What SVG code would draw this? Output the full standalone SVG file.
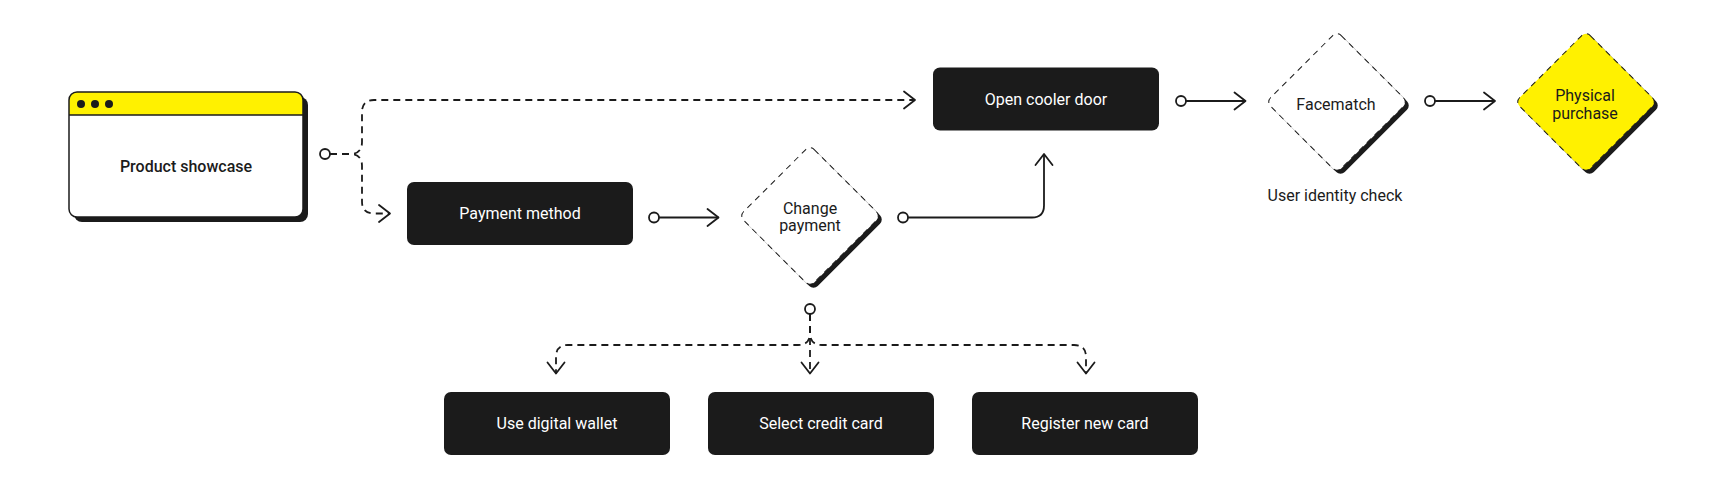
<svg xmlns="http://www.w3.org/2000/svg" width="1728" height="483" viewBox="0 0 1728 483">
<style>
  text { font-family: Roboto, "Liberation Sans", Arial, sans-serif; font-size: 16px; text-anchor: middle; }
  .wt { fill: #ffffff; }
  .dt { fill: #1b1b1b; }
  .box { fill: #1b1b1b; }
  .shadow { fill: #1b1b1b; }
  .dia { stroke: #1b1b1b; stroke-width: 1; stroke-dasharray: 6 5; }
  .solid { fill: none; stroke: #1b1b1b; stroke-width: 1.8; }
  .dash { fill: none; stroke: #1b1b1b; stroke-width: 1.8; stroke-dasharray: 7 5; }
  .dot { fill: #ffffff; stroke: #1b1b1b; stroke-width: 1.8; }
</style>
<defs>
  <marker id="arrow" markerUnits="userSpaceOnUse" markerWidth="24" markerHeight="24" viewBox="-14 -12 16 24" refX="0" refY="0" orient="auto">
    <path d="M -11 -8.5 L 0 0 L -11 8.5" fill="none" stroke="#1b1b1b" stroke-width="1.8" stroke-linecap="round" stroke-linejoin="round"/>
  </marker>
  <clipPath id="winclip"><rect x="69" y="92" width="234" height="125" rx="8"/></clipPath>
</defs>
<rect width="1728" height="483" fill="#ffffff"/>

<g id="connectors">
  <circle class="dot" cx="325" cy="154" r="5"/>
  <path class="dash" d="M 330 154 H 350 Q 362 154 362 142 V 112 Q 362 100 374 100 H 915" marker-end="url(#arrow)"/>
  <path class="dash" d="M 330 154 H 350 Q 362 154 362 166 V 201.5 Q 362 213.5 374 213.5 H 390" marker-end="url(#arrow)"/>
  <circle class="dot" cx="654" cy="217.5" r="5"/>
  <path class="solid" d="M 659 217.5 H 718.5" marker-end="url(#arrow)"/>
  <circle class="dot" cx="903" cy="217.5" r="5"/>
  <path class="solid" d="M 908 217.5 H 1032 Q 1044 217.5 1044 205.5 V 154" marker-end="url(#arrow)"/>
  <circle class="dot" cx="1181" cy="101" r="5"/>
  <path class="solid" d="M 1186 101 H 1245.5" marker-end="url(#arrow)"/>
  <circle class="dot" cx="1430" cy="101" r="5"/>
  <path class="solid" d="M 1435 101 H 1495" marker-end="url(#arrow)"/>
  <circle class="dot" cx="810" cy="309" r="5"/>
  <path class="dash" d="M 810 314 V 373.5" marker-end="url(#arrow)"/>
  <path class="dash" d="M 810 314 V 333 Q 810 345 798 345 H 568 Q 556 345 556 357 V 373.5" marker-end="url(#arrow)"/>
  <path class="dash" d="M 810 314 V 333 Q 810 345 822 345 H 1074 Q 1086 345 1086 357 V 373.5" marker-end="url(#arrow)"/>
</g>

<g id="product-showcase">
  <rect class="shadow" x="74" y="97" width="234" height="125" rx="8"/>
  <rect x="69" y="92" width="234" height="125" rx="8" fill="#ffffff"/>
  <rect x="69" y="92" width="234" height="23" fill="#fff100" clip-path="url(#winclip)"/>
  <line x1="69" y1="115" x2="303" y2="115" stroke="#1b1b1b" stroke-width="1.5"/>
  <rect x="69" y="92" width="234" height="125" rx="8" fill="none" stroke="#1b1b1b" stroke-width="1.5"/>
  <circle cx="81" cy="104" r="4" fill="#1b1b1b"/>
  <circle cx="95" cy="104" r="4" fill="#1b1b1b"/>
  <circle cx="109" cy="104" r="4" fill="#1b1b1b"/>
  <text class="dt" x="186" y="171.5" font-weight="500">Product showcase</text>
</g>

<g id="payment-method">
  <rect class="box" x="407" y="182" width="226" height="63" rx="7"/>
  <text class="wt" x="520" y="219">Payment method</text>
</g>

<g id="change-payment">
  <g transform="translate(810 216) rotate(45)">
    <rect class="shadow" x="-45" y="-50" width="100" height="100" rx="6"/>
    <rect class="dia" x="-50" y="-50" width="100" height="100" rx="6" fill="#ffffff"/>
  </g>
  <text class="dt" x="810" y="213.5">Change</text>
  <text class="dt" x="810" y="231">payment</text>
</g>

<g id="open-cooler-door">
  <rect class="box" x="933" y="67.5" width="226" height="63" rx="7"/>
  <text class="wt" x="1046" y="104.5">Open cooler door</text>
</g>

<g id="facematch">
  <g transform="translate(1337 102) rotate(45)">
    <rect class="shadow" x="-45" y="-50" width="100" height="100" rx="6"/>
    <rect class="dia" x="-50" y="-50" width="100" height="100" rx="6" fill="#ffffff"/>
  </g>
  <text class="dt" x="1336" y="110">Facematch</text>
  <text class="dt" x="1335" y="201">User identity check</text>
</g>

<g id="physical-purchase">
  <g transform="translate(1586 102) rotate(45)">
    <rect class="shadow" x="-45" y="-50" width="100" height="100" rx="6"/>
    <rect class="dia" x="-50" y="-50" width="100" height="100" rx="6" fill="#fff100"/>
  </g>
  <text class="dt" x="1585" y="101">Physical</text>
  <text class="dt" x="1585" y="119">purchase</text>
</g>

<g id="use-digital-wallet">
  <rect class="box" x="444" y="392" width="226" height="63" rx="7"/>
  <text class="wt" x="557" y="429">Use digital wallet</text>
</g>

<g id="select-credit-card">
  <rect class="box" x="708" y="392" width="226" height="63" rx="7"/>
  <text class="wt" x="821" y="429">Select credit card</text>
</g>

<g id="register-new-card">
  <rect class="box" x="972" y="392" width="226" height="63" rx="7"/>
  <text class="wt" x="1085" y="429">Register new card</text>
</g>
</svg>
